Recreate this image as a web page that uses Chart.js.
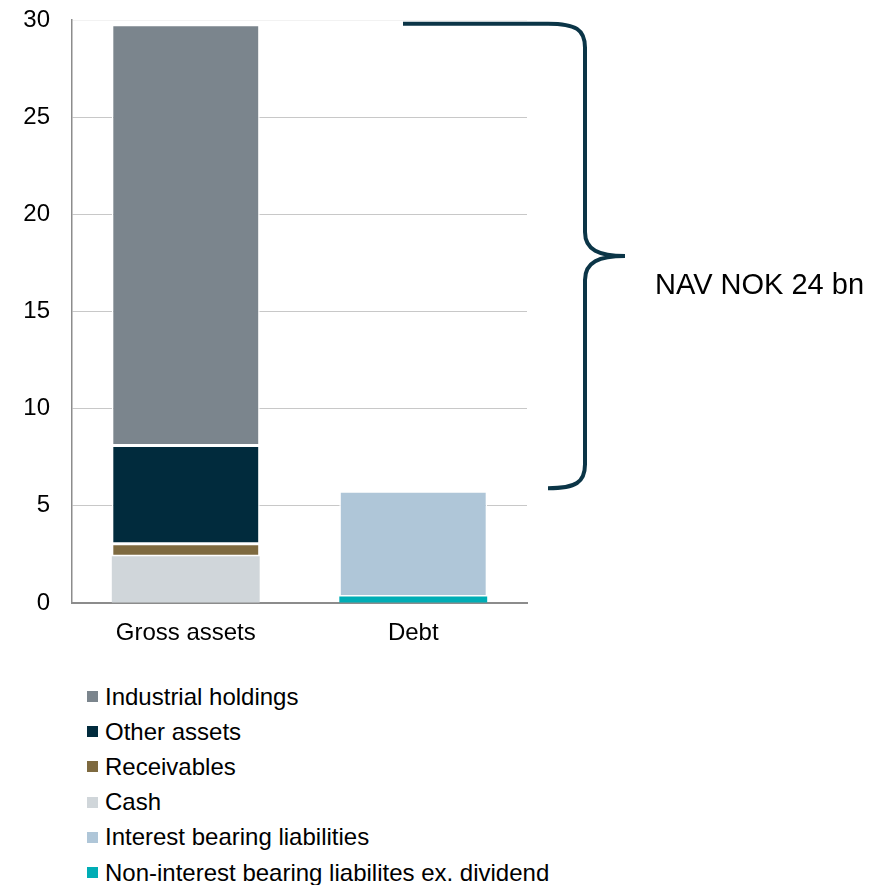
<!DOCTYPE html>
<html>
<head>
<meta charset="utf-8">
<title>Net asset value</title>
<script src="https://cdn.jsdelivr.net/npm/chart.js@4.4.1/dist/chart.umd.min.js"></script>
<style>
  body { margin: 0; background: #fff; font-family: "Liberation Sans", Arial, sans-serif; }
  #wrap { position: relative; width: 887px; height: 885px; }
  #plot { position: absolute; left: 0; top: 0; width: 887px; height: 660px; }
  #legend { position: absolute; left: 87px; top: 679px; margin: 0; padding: 0; list-style: none; }
  #legend li { height: 35.2px; display: flex; align-items: center; font-size: 24px; color: #000; white-space: nowrap; }
  #legend .box { width: 11px; height: 11px; margin-right: 7px; flex: none; }
</style>
</head>
<body>
<div id="wrap">
  <div id="plot"><canvas id="nav"></canvas></div>
  <ul id="legend"></ul>
</div>
<script>
// NOK bn
var categories = ['Gross assets', 'Debt'];
var assetNames = ['Cash', 'Receivables', 'Other assets', 'Industrial holdings'];
var assetValues = [2.41, 0.64, 5.05, 21.66];
var debtNames = ['Non-interest bearing liabilites ex. dividend', 'Interest bearing liabilities'];
var debtValues = [0.33, 5.42];
var yTicks = [0, 5, 10, 15, 20, 25, 30];
var navLabel = 'NAV NOK 24 bn';
var legendOrder = ['Industrial holdings', 'Other assets', 'Receivables', 'Cash',
    'Interest bearing liabilities', 'Non-interest bearing liabilites ex. dividend'];

var colors = {
    'Cash': '#d0d6da',
    'Receivables': '#7e6a40',
    'Other assets': '#012b3d',
    'Industrial holdings': '#7b858d',
    'Non-interest bearing liabilites ex. dividend': '#00adb5',
    'Interest bearing liabilities': '#afc6d8'
};
// these two sit flush at the base, the rest are split by a thin white line
var noBorder = ['Cash', 'Non-interest bearing liabilites ex. dividend'];

function sum(arr) {
    return arr.reduce(function (acc, v) { return acc + v; }, 0);
}

function makeDataset(name, value, col) {
    var data = categories.map(function (c, i) { return i === col ? value : null; });
    return {
        label: name,
        data: data,
        backgroundColor: colors[name],
        borderColor: '#ffffff',
        borderWidth: noBorder.indexOf(name) >= 0 ? 0 : 1.5,
        borderSkipped: false,
        barPercentage: 0.65,
        categoryPercentage: 1
    };
}

var datasets = assetNames.map(function (n, i) { return makeDataset(n, assetValues[i], 0); })
    .concat(debtNames.map(function (n, i) { return makeDataset(n, debtValues[i], 1); }));

// curly brace from the debt total up to gross assets, with the NAV text
var bracePlugin = {
    id: 'navBrace',
    afterDraw: function (chart) {
        var ctx = chart.ctx;
        var y = chart.scales.y;
        var r = chart.chartArea.right;
        var top = y.getPixelForValue(sum(assetValues)) - 1;
        var bottom = y.getPixelForValue(sum(debtValues)) - 3;
        var mid = (top + bottom) / 2;
        var x0 = r - 124, x1 = r + 21, xs = r + 58, xp = r + 98;

        ctx.save();
        ctx.strokeStyle = '#0b3547';
        ctx.lineWidth = 4;
        ctx.beginPath();
        ctx.moveTo(x0, top);
        ctx.lineTo(x1, top);
        ctx.bezierCurveTo(x1 + 28, top, xs, top + 6, xs, top + 24);
        ctx.lineTo(xs, mid - 24);
        ctx.bezierCurveTo(xs, mid - 6, xs + 14, mid, xp, mid);
        ctx.moveTo(xp, mid);
        ctx.bezierCurveTo(xs + 14, mid, xs, mid + 6, xs, mid + 24);
        ctx.lineTo(xs, bottom - 24);
        ctx.bezierCurveTo(xs, bottom - 6, x1 + 28, bottom, x1, bottom);
        ctx.stroke();

        ctx.fillStyle = '#000';
        ctx.font = '29px "Liberation Sans", Arial, sans-serif';
        ctx.textAlign = 'left';
        ctx.textBaseline = 'middle';
        ctx.fillText(navLabel, r + 128, mid + 30);
        ctx.restore();
    }
};

Chart.defaults.font.family = '"Liberation Sans", Arial, sans-serif';
Chart.defaults.font.size = 24;
Chart.defaults.color = '#000';

var chart = new Chart(document.getElementById('nav'), {
    type: 'bar',
    data: {
        labels: categories,
        datasets: datasets
    },
    options: {
        responsive: true,
        maintainAspectRatio: false,
        animation: false,
        layout: {
            padding: { top: 20, right: 360, bottom: 0, left: 0 }
        },
        plugins: {
            legend: { display: false },
            tooltip: { enabled: false }
        },
        scales: {
            x: {
                stacked: true,
                grid: { display: false, drawTicks: false },
                border: { color: '#8c8c8c', width: 2 },
                ticks: { padding: 16 },
                afterFit: function (scale) { scale.height = 57; }
            },
            y: {
                stacked: true,
                min: yTicks[0],
                max: yTicks[yTicks.length - 1],
                afterBuildTicks: function (scale) {
                    scale.ticks = yTicks.map(function (v) { return { value: v }; });
                },
                grid: {
                    drawTicks: false,
                    lineWidth: 1,
                    color: function (c) {
                        if (c.tick.value === 0) return 'rgba(0,0,0,0)';
                        if (c.tick.value === 30) return '#f2f2f2';
                        return '#c8c8c8';
                    }
                },
                border: { color: '#8c8c8c', width: 1.5 },
                ticks: { padding: 22 },
                afterFit: function (scale) {
                    scale.width = 72;
                    // tick padding would otherwise also push the plot down
                    scale.paddingTop = 0;
                    scale.paddingBottom = 0;
                }
            }
        }
    },
    plugins: [bracePlugin]
});

// one legend entry per row, top of each stack first
var legend = document.getElementById('legend');
legendOrder.forEach(function (name) {
    var ds = chart.data.datasets.find(function (d) { return d.label === name; });
    var li = document.createElement('li');
    var box = document.createElement('span');
    box.className = 'box';
    box.style.background = ds.backgroundColor;
    li.appendChild(box);
    li.appendChild(document.createTextNode(ds.label));
    legend.appendChild(li);
});
</script>
</body>
</html>
